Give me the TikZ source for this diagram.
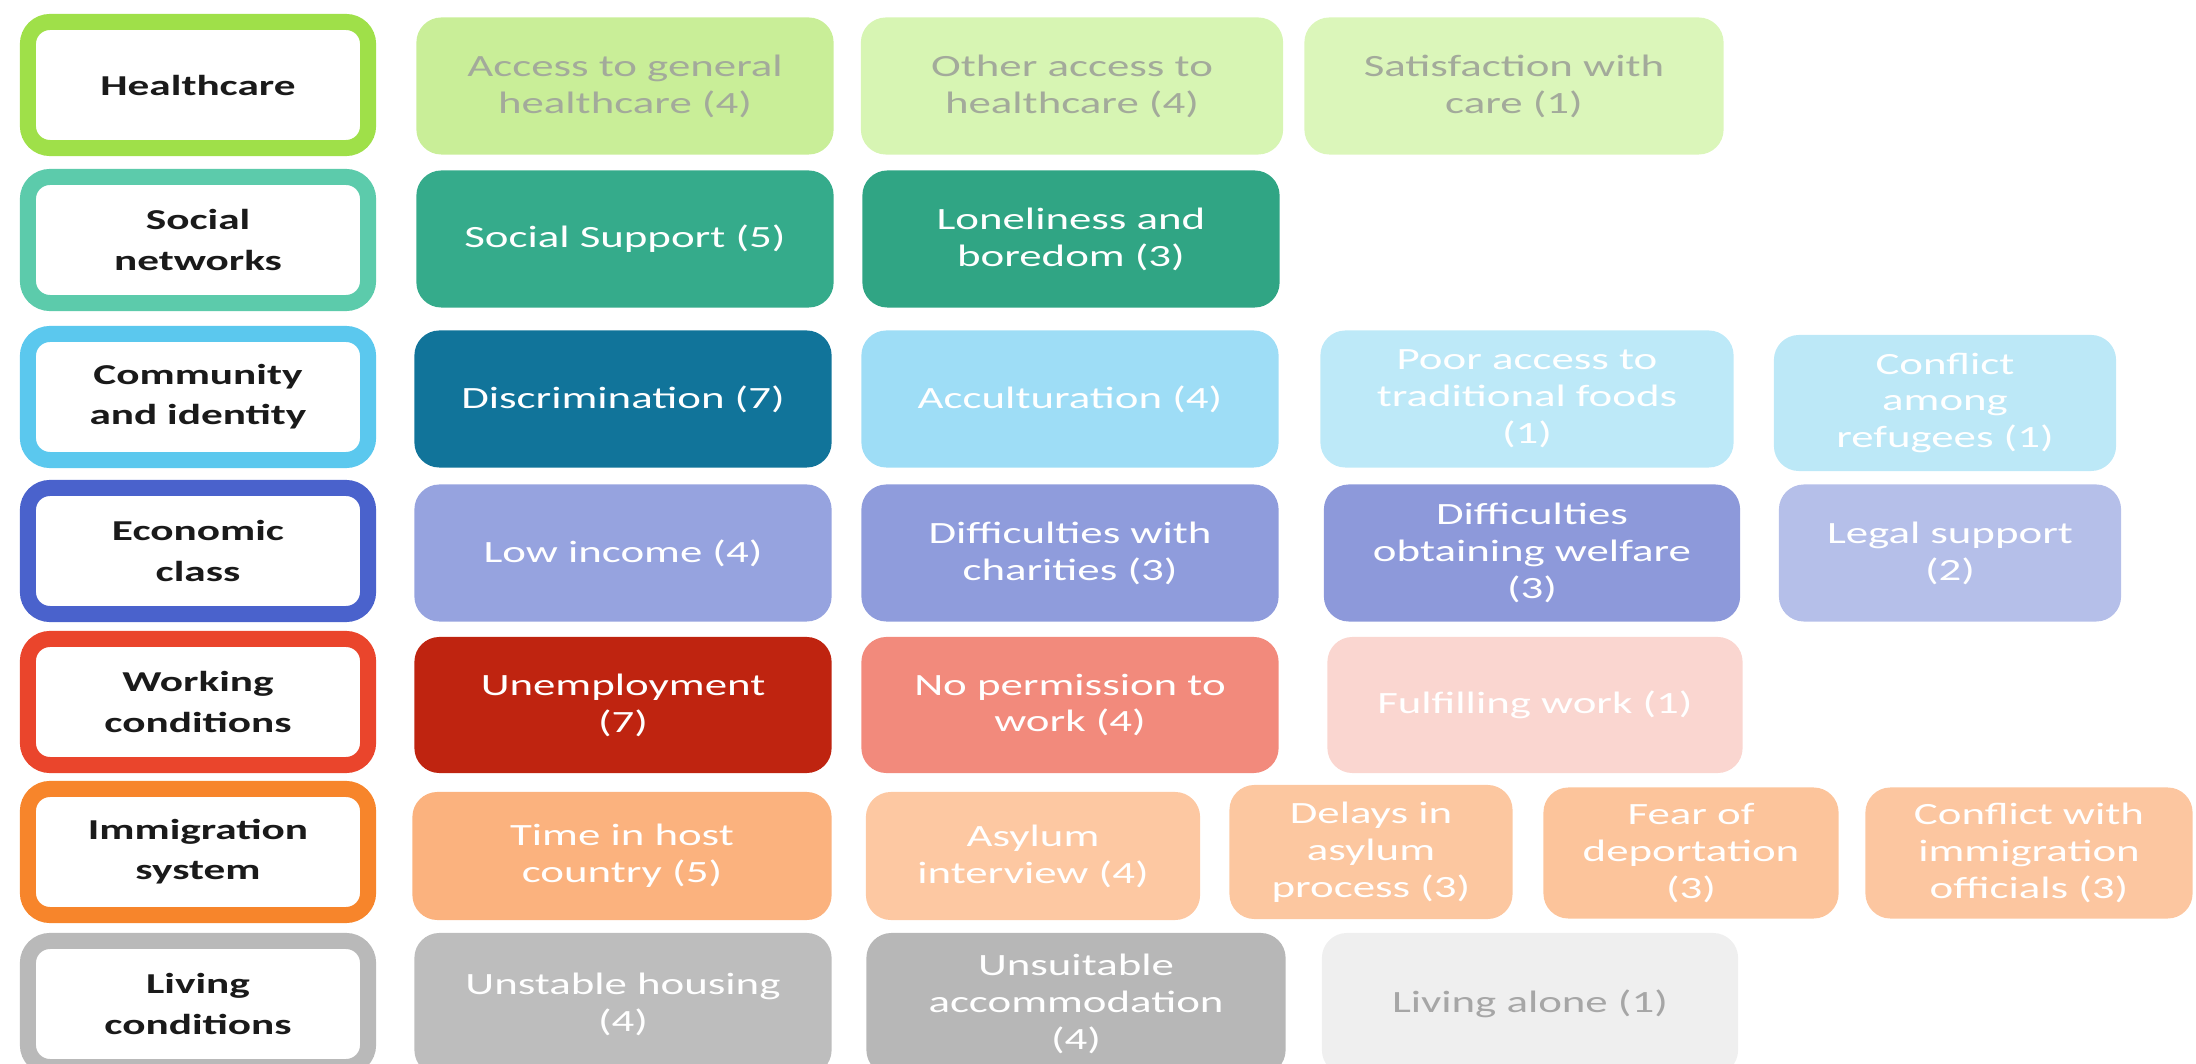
\documentclass[tikz,border=0pt]{standalone}
\usepackage{fontspec}
\setmainfont{Carlito}
\newfontfamily\subfont[FakeStretch=1.45]{Carlito}
\newfontfamily\labfont[FakeStretch=1.5]{Carlito}

\definecolor{hcline}{HTML}{9FE049}
\definecolor{snline}{HTML}{5CCBAB}
\definecolor{ciline}{HTML}{5BC8EE}
\definecolor{ecline}{HTML}{4A62CC}
\definecolor{wcline}{HTML}{EA452C}
\definecolor{isline}{HTML}{F7852B}
\definecolor{lcline}{HTML}{B9B9B9}
\definecolor{labtext}{HTML}{1A1A1A}
\definecolor{hctext}{HTML}{A3AA9B}
\definecolor{greytext}{HTML}{A6A6A6}

\definecolor{accgen}{HTML}{C9EE98}
\definecolor{accoth}{HTML}{D7F5B3}
\definecolor{satis}{HTML}{DBF6BA}
\definecolor{suppfill}{HTML}{35AB8B}
\definecolor{lonefill}{HTML}{30A584}
\definecolor{discfill}{HTML}{11749A}
\definecolor{accufill}{HTML}{9EDDF6}
\definecolor{foodfill}{HTML}{BDE9F8}
\definecolor{conffill}{HTML}{BCE8F7}
\definecolor{incfill}{HTML}{96A3DF}
\definecolor{charfill}{HTML}{8F9CDC}
\definecolor{welffill}{HTML}{8D99DA}
\definecolor{legfill}{HTML}{B5BFE9}
\definecolor{unemfill}{HTML}{BF2410}
\definecolor{permfill}{HTML}{F28A7C}
\definecolor{fulfill}{HTML}{FAD6D0}
\definecolor{hostfill}{HTML}{FBB27E}
\definecolor{asylfill}{HTML}{FDC8A2}
\definecolor{delafill}{HTML}{FCC7A0}
\definecolor{fearfill}{HTML}{FCC49B}
\definecolor{offifill}{HTML}{FCC6A0}
\definecolor{unstfill}{HTML}{BDBDBD}
\definecolor{unsufill}{HTML}{B7B7B7}
\definecolor{alonfill}{HTML}{EFEFEF}

\begin{document}
\begin{tikzpicture}[x=0.01cm, y=-0.01cm,
        catbox/.style = {draw=#1, line width=0.16cm, fill=white, rounded corners=0.22cm, minimum width=3.40cm, minimum height=1.26cm, inner sep=0pt, align=center, text=labtext, font=\labfont\bfseries\fontsize{8.2}{11.4}\selectfont},
        itembox/.style = {fill=#1, rounded corners=0.25cm, minimum width=4.17cm, minimum height=1.37cm, inner sep=0pt, align=center, text=white, font=\subfont\fontsize{8.8}{10.5}\selectfont},
        ]
        \clip (0,0) rectangle (2196,1064);
        \node[catbox=hcline] (health) at (198,85) {Healthcare};
        \node[catbox=snline] (social) at (198,240) {Social\\networks};
        \node[catbox=ciline] (community) at (198,397) {Community\\and identity};
        \node[catbox=ecline] (economic) at (198,551) {Economic\\class};
        \node[catbox=wcline] (working) at (198,702) {Working\\conditions};
        \node[catbox=isline] (immigration) at (198,852) {Immigration\\system};
        \node[catbox=lcline] (living) at (198,1004) {Living\\conditions};

        \node[itembox=accgen, text=hctext] (access) at (625,86) {Access to general\\healthcare (4)};
        \node[itembox=accoth, text=hctext, minimum width=4.22cm] (otheracc) at (1072,86) {Other access to\\healthcare (4)};
        \node[itembox=satis, text=hctext, minimum width=4.19cm] (satisf) at (1514,86) {Satisfaction with\\care (1)};

        \node[itembox=suppfill] (support) at (625,239) {Social Support (5)};
        \node[itembox=lonefill] (lonely) at (1071,239) {Loneliness and\\boredom (3)};

        \node[itembox=discfill] (discrim) at (623,399) {Discrimination (7)};
        \node[itembox=accufill] (accult) at (1070,399) {Acculturation (4)};
        \node[itembox=foodfill, minimum width=4.13cm] (foods) at (1527,399) {Poor access to\\traditional foods\\(1)};
        \node[itembox=conffill, minimum width=3.42cm, minimum height=1.36cm] (refugees) at (1945,403) {Conflict\\among\\refugees (1)};

        \node[itembox=incfill] (income) at (623,553) {Low income (4)};
        \node[itembox=charfill] (charities) at (1070,553) {Difficulties with\\charities (3)};
        \node[itembox=welffill, minimum width=4.16cm] (welfare) at (1532,553) {Difficulties\\obtaining welfare\\(3)};
        \node[itembox=legfill, minimum width=3.42cm] (legal) at (1950,553) {Legal support\\(2)};

        \node[itembox=unemfill, minimum height=1.36cm] (unemploy) at (623,705) {Unemployment\\(7)};
        \node[itembox=permfill, minimum height=1.36cm] (permission) at (1070,705) {No permission to\\work (4)};
        \node[itembox=fulfill, minimum width=4.15cm, minimum height=1.36cm] (fulfil) at (1535,705) {Fulfilling work (1)};

        \node[itembox=hostfill, minimum width=4.19cm, minimum height=1.28cm] (hosttime) at (622,856) {Time in host\\country (5)};
        \node[itembox=asylfill, minimum width=3.34cm, minimum height=1.28cm] (interview) at (1033,856) {Asylum\\interview (4)};
        \node[itembox=delafill, minimum width=2.83cm, minimum height=1.34cm] (delays) at (1371,852) {Delays in\\asylum\\process (3)};
        \node[itembox=fearfill, minimum width=2.95cm, minimum height=1.31cm] (fear) at (1691,853) {Fear of\\deportation\\(3)};
        \node[itembox=offifill, minimum width=3.27cm, minimum height=1.31cm] (officials) at (2029,853) {Conflict with\\immigration\\officials (3)};

        \node[itembox=unstfill, minimum height=1.42cm] (unstable) at (623,1004) {Unstable housing\\(4)};
        \node[itembox=unsufill, minimum width=4.19cm, minimum height=1.42cm] (unsuitable) at (1076,1004) {Unsuitable\\accommodation\\(4)};
        \node[itembox=alonfill, text=greytext, minimum width=4.16cm, minimum height=1.42cm] (alone) at (1530,1004) {Living alone (1)};
    \end{tikzpicture}
\end{document}
